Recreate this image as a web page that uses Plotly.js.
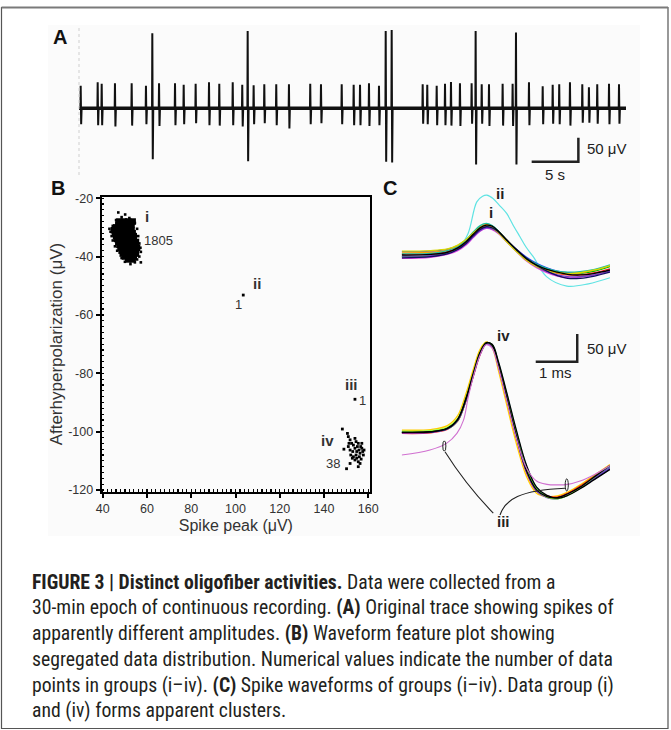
<!DOCTYPE html>
<html><head><meta charset="utf-8">
<script src="https://cdn.plot.ly/plotly-3.0.1.min.js"></script>
<style>html,body{margin:0;padding:0;background:#fff;} #chart{width:671px;height:730px;}</style>
</head><body><div id="chart"></div>
<script>
// ---------------- Panel A: original trace (time in s, amplitude in µV) ----------------
const spikeTimes = [0.18, 2.0, 2.43, 3.85, 5.64, 7.17, 7.85, 8.57, 10.28, 11.21, 12.49, 13.92, 15.02, 16.46, 17.48, 18.06, 18.7, 19.84, 21.12, 22.48, 24.76, 25.91, 28.13, 29.41, 30.09, 31.05, 32.12, 32.84, 33.48, 36.8, 37.29, 38.3, 39.19, 39.83, 40.79, 42.04, 42.47, 43.12, 43.9, 45.36, 46.43, 46.79, 48.18, 49.65, 50.72, 51.42, 52.57, 53.89, 54.6, 55.49, 56.75, 57.82];
const spikeUp = [47, 54, 51, 52, 52, 47, 156, 52, 52, 49, 51, 54, 51, 54, 49, 161, 48, 50, 50, 50, 51, 50, 50, 49, 49, 52, 47, 161, 163, 50, 49, 47, 51, 55, 52, 52, 161, 50, 50, 51, 51, 158, 54, 46, 49, 50, 54, 50, 44, 50, 51, 50];
const spikeDown = [-33, -35, -35, -38, -36, -33, -106, -37, -35, -33, -31, -35, -36, -35, -38, -110, -33, -31, -35, -42, -33, -31, -33, -35, -35, -37, -35, -111, -113, -32, -33, -35, -35, -36, -37, -32, -117, -32, -37, -36, -37, -117, -35, -33, -32, -33, -36, -30, -30, -32, -33, -32];
const traceSpan = [0, 58.57];

// ---------------- Panel B: waveform features (µV) ----------------
const groupICoreX = [47.5,49.5,51.5,53.5, 47,49,51,53, 46,48,50,52, 45,47,49,51,53, 45.5,47.5,49.5,51.5,53.5, 46,48,50,52,54, 46.5,48.5,50.5,52.5,54, 47,49,51,53,55, 47.5,49.5,51.5,53.5,54.5, 48,50,52,54,55.5, 48.5,50.5,52.5,54.5, 49,51,53,55, 50,52,54, 51.5,53.5];
const groupICoreY = [-28,-28,-28,-28, -29,-29,-29,-29, -30,-30,-30,-30, -31,-31,-31,-31,-31, -32,-32,-32,-32,-32, -33,-33,-33,-33,-33, -34,-34,-34,-34,-34, -35,-35,-35,-35,-35, -36,-36,-36,-36,-36, -37,-37,-37,-37,-37, -38,-38,-38,-38, -39,-39,-39,-39, -40,-40,-40, -41,-41];
const groupIEdgeX = [47,50.1,48.5,52,46,54.5,44.5,43,43.5,44,44.5,55.5,56,56.5,57,57.2,56.5,57.2,54.5,52.5,50,48.5,46.5,45.5,55.5];
const groupIEdgeY = [-24.9,-25.6,-26.5,-26.8,-27.5,-28.5,-29.5,-30.5,-31.5,-33,-34.5,-30.5,-33,-35.5,-37,-38.4,-40,-42,-42,-42.6,-41.8,-40.5,-38,-36.5,-41];
const groupIIX = [103.5], groupIIY = [-53.2];
const groupIIIX = [154.0], groupIIIY = [-88.9];
const groupIVX = [148.3,150.6,151.0,151.8,152.5,151.0,151.8,153.3,154.0,154.5,155.1,155.5,155.8,156.3,156.6,157.1,157.5,157.8,153.3,154.0,154.8,155.5,156.3,150.2,151.8,152.8,155.5,151.3,149.0,154.0,154.8,156.0,156.8,153.0,157.1,158.1,154.5,152.1];
const groupIVY = [-99.1,-100.6,-101.7,-102.8,-104.0,-105.1,-106.3,-104.6,-105.7,-103.4,-105.1,-104.0,-106.3,-107.4,-105.1,-104.0,-106.8,-108.0,-108.6,-109.7,-109.1,-110.3,-110.9,-112.7,-110.9,-109.1,-112.0,-104.0,-106.0,-102.3,-106.8,-108.6,-109.4,-106.8,-105.7,-106.3,-108.0,-108.0];
const xTickVals = [40, 60, 80, 100, 120, 140, 160];
const xTickText = ['40', '60', '80', '100', '120', '140', '160'];
const yTickVals = [-20, -40, -60, -80, -100, -120];
const yTickText = ['-20', '-40', '-60', '-80', '-100', '-120'];

// ---------------- Panel C: spike waveforms (time ms, µV) ----------------
const tC = [0, 0.7, 1.1, 1.35, 1.55, 1.73, 1.89, 2.04, 2.18, 2.33, 2.53, 2.77, 3.01, 3.25, 3.5, 3.75, 4.0, 4.3, 4.65, 5.02];
// group i waveforms
const waveI_blue    = [6,7,10,17,27,38,46,50,47,40,26,10,-4,-15,-23,-29,-32,-32,-28,-20];
const waveI_green   = [-3,-2,3,11,23,38,50,55,52,43,27,9,-6,-17,-25,-30,-33,-33,-29,-21];
const waveI_red     = [1,2,6,13,23,36,47,52,50,42,27,9,-7,-19,-28,-33,-36,-36,-32,-25];
const waveI_magenta = [-6,-4,1,8,18,32,43,48,46,39,24,6,-11,-23,-32,-38,-41,-40,-36,-29];
const waveI_orange  = [4,5,9,16,27,41,51,55,51,41,25,7,-9,-20,-27,-31,-33,-32,-27,-19];
const waveI_purple  = [-2,-1,3,10,20,33,44,49,47,40,25,7,-9,-21,-30,-36,-39,-39,-36,-29];
const waveI_teal    = [2,3,8,15,27,42,53,57,53,43,26,8,-7,-17,-24,-29,-31,-30,-26,-18];
const waveI_yellow  = [7,8,11,18,28,40,49,53,49,40,24,6,-10,-21,-28,-32,-34,-32,-27,-19];
const waveI_navy    = [-5,-3,2,10,21,35,46,51,49,42,27,10,-6,-19,-29,-37,-42,-42,-38,-31];
const waveI_black   = [0,1,5,13,24,38,49,54,52,43,27,9,-7,-18,-26,-31,-35,-36,-33,-27];
// group ii waveform
const tII = [0, 0.7, 1.2, 1.4, 1.6, 1.81, 1.95, 2.05, 2.2, 2.35, 2.53, 2.7, 2.85, 3.0, 3.17, 3.49, 3.98, 4.5, 5.02];
const waveII = [-3, -2, 5, 15, 39, 96, 106, 108, 102, 90, 75, 52, 33, 14, -3, -39, -56, -52, -41];
// group iv waveforms
const waveIV_yellow = [4,5,12,30,70,115,150,163,153,112,50,-22,-80,-110,-116,-115,-108,-95,-77,-58];
const waveIV_red    = [-2,-1,5,20,57,102,140,160,156,120,60,-12,-73,-106,-115,-117,-110,-97,-79,-60];
const waveIV_green  = [0,1,6,21,58,104,142,161,158,124,66,-5,-66,-102,-116,-119,-113,-100,-82,-63];
const waveIV_blue   = [-1,0,6,22,59,105,143,160,156,121,62,-10,-71,-105,-117,-119,-113,-101,-84,-66];
const waveIV_cyan   = [1,2,8,24,61,106,143,161,158,126,70,-1,-62,-100,-117,-120,-114,-100,-81,-62];
const waveIV_purple = [0,1,7,22,58,103,141,159,155,120,61,-11,-72,-106,-118,-120,-113,-100,-82,-64];
const waveIV_lime   = [2,3,9,25,63,108,145,162,157,123,64,-6,-68,-103,-117,-120,-114,-100,-80,-60];
const waveIV_black2 = [0,1,7,23,60,105,143,161,159,128,72,2,-60,-99,-114,-119,-114,-102,-85,-67];
const waveIV_black  = [0,1,7,24,62,108,145,162,157,122,63,-8,-70,-104,-116,-118,-111,-99,-80,-60];
// group iii waveform
const tIII = [0, 0.68, 1.08, 1.33, 1.49, 1.6, 1.73, 1.89, 2.03, 2.17, 2.33, 2.53, 2.77, 3.01, 3.25, 3.5, 3.73, 4.0, 4.3, 4.65, 5.02];
const waveIII = [-41, -32, -20, -2, 22, 62, 102, 140, 158, 153, 117, 58, -12, -65, -88, -94, -95, -94, -88, -76, -60];

// ---------------- build ----------------
const W = 671, H = 730;
const PX = x => x / W, PY = y => 1 - y / H;
const traces = [];

// Panel A
const ax = [traceSpan[0]], ay = [0];
spikeTimes.forEach((t, i) => { ax.push(t - 0.03, t, t + 0.05, t + 0.1); ay.push(0, spikeUp[i], spikeDown[i], 0); });
ax.push(traceSpan[1]); ay.push(0);
traces.push({x: traceSpan, y: [0, 0], mode: 'lines', line: {color: '#111', width: 3.5}, xaxis: 'x', yaxis: 'y', hoverinfo: 'skip'});
traces.push({x: ax, y: ay, mode: 'lines', line: {color: '#111', width: 2}, xaxis: 'x', yaxis: 'y', hoverinfo: 'skip'});

// Panel B
const mk = (x, y, s) => ({x, y, mode: 'markers', marker: {color: '#000', size: s, symbol: 'square', line: {width: 0}}, xaxis: 'x2', yaxis: 'y2', cliponaxis: false});
traces.push(mk(groupICoreX, groupICoreY, 6.5));
traces.push(mk(groupIEdgeX, groupIEdgeY, 2.6));
traces.push(mk(groupIIX, groupIIY, 2.8));
traces.push(mk(groupIIIX, groupIIIY, 2.8));
traces.push(mk(groupIVX, groupIVY, 2.8));

// Panel C
const wl = (x, y, color, ax, w) => ({x, y, mode: 'lines', line: {color, width: w || 1.3, shape: 'spline', smoothing: 1}, xaxis: ax, yaxis: ax.replace('x', 'y'), hoverinfo: 'skip'});
traces.push(wl(tII, waveII, '#5fe3e3', 'x3', 1.2));
[[waveI_blue,'#2a3cff'],[waveI_green,'#00c000'],[waveI_red,'#ff2020'],[waveI_magenta,'#e040e0'],[waveI_orange,'#ff9900'],
 [waveI_purple,'#7a3cc8'],[waveI_teal,'#20c0a0'],[waveI_yellow,'#d8d800'],[waveI_navy,'#101060'],[waveI_black,'#000']]
 .forEach(([v,c]) => traces.push(wl(tC, v, c, 'x3')));
[[waveIV_yellow,'#ffcc00'],[waveIV_red,'#ff2020'],[waveIV_green,'#00c000'],[waveIV_blue,'#2a3cff'],[waveIV_cyan,'#33cccc'],
 [waveIV_purple,'#7a3cc8'],[waveIV_lime,'#99ff33'],[waveIV_black2,'#000'],[waveIV_black,'#000']]
 .forEach(([v,c]) => traces.push(wl(tC, v, c, 'x4')));
traces.push(wl(tIII, waveIII, '#d070d0', 'x4', 1.1));

const hid = (dom, rng) => ({domain: dom, range: rng, visible: false, fixedrange: true});
const lbl = (text, x, y, size, bold, extra) => Object.assign({text: bold ? '<b>' + text + '</b>' : text, x: PX(x), y: PY(y), xref: 'paper', yref: 'paper', showarrow: false, xanchor: 'center', yanchor: 'middle', font: {size, color: '#222'}}, extra || {});
const blbl = (text, x, y, size, bold) => ({text: bold ? '<b>' + text + '</b>' : text, x, y, xref: 'x2', yref: 'y2', showarrow: false, xanchor: 'center', yanchor: 'middle', font: {size, color: '#333'}});

const capFont = {family: '"Roboto Condensed", "Liberation Sans Narrow", "Arial Narrow", sans-serif', size: 19.7, color: '#231f20'};
const capLines = [
  '<b>FIGURE 3 | Distinct oligofiber activities.</b> Data were collected from a',
  '30-min epoch of continuous recording. <b>(A)</b> Original trace showing spikes of',
  'apparently different amplitudes. <b>(B)</b> Waveform feature plot showing',
  'segregated data distribution. Numerical values indicate the number of data',
  'points in groups (i–iv). <b>(C)</b> Spike waveforms of groups (i–iv). Data group (i)',
  'and (iv) forms apparent clusters.'
];
const capAnn = capLines.map((t, i) => ({text: t, x: PX(30), y: PY(582 + i * 25.75), xref: 'paper', yref: 'paper', xanchor: 'left', yanchor: 'middle', showarrow: false, font: capFont}));

const layout = {
  width: W, height: H, margin: {l: 0, r: 0, t: 0, b: 0},
  paper_bgcolor: '#fff', plot_bgcolor: 'rgba(0,0,0,0)', showlegend: false,
  font: {family: 'Arial, "Liberation Sans", sans-serif', color: '#222'},
  xaxis: hid([PX(79), PX(626)], [0, 58.57]),
  yaxis: hid([PY(165), PY(30)], [-118, 163]),
  xaxis2: {domain: [PX(101.7), PX(370)], range: [39.5, 160.8], anchor: 'y2', showline: true, linewidth: 2, linecolor: '#000', mirror: true,
    ticks: 'outside', ticklen: 4, tickwidth: 2, tickcolor: '#000', tickvals: xTickVals, ticktext: xTickText, tickfont: {size: 12.5, color: '#333'},
    showgrid: false, zeroline: false, fixedrange: true,
    minor: {dtick: 2, ticks: 'inside', ticklen: 2.5, tickwidth: 1.2, tickcolor: '#000', showgrid: false},
    title: {text: 'Spike peak (μV)', font: {size: 16, color: '#333'}, standoff: 5}},
  yaxis2: {domain: [PY(491.5), PY(196.7)], range: [-120.5, -19.5], anchor: 'x2', showline: true, linewidth: 2, linecolor: '#000', mirror: true,
    ticks: 'outside', ticklen: 4, tickwidth: 2, tickcolor: '#000', tickvals: yTickVals, ticktext: yTickText, tickfont: {size: 12.5, color: '#333'},
    showgrid: false, zeroline: false, fixedrange: true,
    minor: {dtick: 2, ticks: 'inside', ticklen: 2.5, tickwidth: 1.2, tickcolor: '#000', showgrid: false},
    title: {text: 'Afterhyperpolarization (μV)', font: {size: 17, color: '#333'}, standoff: 1}},
  xaxis3: Object.assign(hid([PX(401.7), PX(610)], [0, 5.02]), {anchor: 'y3'}),
  yaxis3: Object.assign(hid([PY(300), PY(185)], [-81.2, 126.4]), {anchor: 'x3'}),
  xaxis4: Object.assign(hid([PX(401.7), PX(610)], [0, 5.02]), {anchor: 'y4'}),
  yaxis4: Object.assign(hid([PY(530), PY(330)], [-176.4, 184.7]), {anchor: 'x4'}),
  shapes: [
    {type: 'rect', xref: 'paper', yref: 'paper', x0: PX(1.5), x1: PX(668), y0: PY(728.5), y1: PY(7.5), line: {color: '#555', width: 1.2}, layer: 'below'},
    {type: 'line', xref: 'paper', yref: 'paper', x0: PX(1.5), x1: PX(668), y0: PY(7.5), y1: PY(7.5), line: {color: '#7a7a7a', width: 2.2}},
    {type: 'rect', xref: 'paper', yref: 'paper', x0: PX(48), x1: PX(640), y0: PY(536), y1: PY(25), fillcolor: '#fbfbfb', line: {width: 0}, layer: 'below'},
    {type: 'line', xref: 'paper', yref: 'paper', x0: PX(79), x1: PX(79), y0: PY(175), y1: PY(28), line: {color: '#cfcfcf', width: 1, dash: 'dot'}},
    {type: 'path', xref: 'x', yref: 'y', path: 'M 48.47,-111.25 L 53.47,-111.25 L 53.47,-61.25', line: {color: '#222', width: 2.5}},
    {type: 'path', xref: 'x4', yref: 'y4', path: 'M 3.23,127.4 L 4.23,127.4 L 4.23,177.4', line: {color: '#222', width: 2.5}},
    {type: 'circle', xref: 'x4', yref: 'y4', x0: 0.99, x1: 1.065, y0: -34, y1: -15.5, line: {color: '#222', width: 1}},
    {type: 'circle', xref: 'x4', yref: 'y4', x0: 3.94, x1: 4.015, y0: -106, y1: -84, line: {color: '#222', width: 1}},
    {type: 'path', xref: 'x4', yref: 'y4', path: 'M 1.043,-35 Q 1.55,-95 2.207,-146', line: {color: '#222', width: 1.1}},
    {type: 'path', xref: 'x4', yref: 'y4', path: 'M 3.935,-101 C 2.85,-104 2.49,-122 2.369,-149.3', line: {color: '#222', width: 1.1}}
  ],
  annotations: [
    lbl('A', 60, 37, 20, true, {font: {size: 20, color: '#111'}}),
    lbl('B', 58, 188, 20, true, {font: {size: 20, color: '#111'}}),
    lbl('C', 390, 188, 20, true, {font: {size: 20, color: '#111'}}),
    lbl('50 μV', 585, 148, 15, false, {xanchor: 'left'}),
    lbl('5 s', 555, 175, 15, false),
    lbl('ii', 500, 193, 15, true),
    lbl('i', 491, 213, 15, true),
    lbl('iv', 503, 335, 15, true),
    lbl('iii', 503, 521, 15, true),
    lbl('50 μV', 585, 348, 15, false, {xanchor: 'left'}),
    lbl('1 ms', 555, 373, 15, false),
    blbl('i', 60.2, -26.4, 15, true),
    blbl('1805', 65, -34.4, 13, false),
    blbl('ii', 109.6, -49.2, 15, true),
    blbl('1', 101.5, -56.6, 13, false),
    blbl('iii', 152.5, -84, 15, true),
    blbl('1', 157.5, -89.2, 13, false),
    blbl('iv', 141.5, -103.1, 15, true),
    blbl('38', 144.2, -110.9, 13, false)
  ].concat(capAnn)
};

Plotly.newPlot('chart', traces, layout, {staticPlot: true, displayModeBar: false});
</script>
</body></html>
